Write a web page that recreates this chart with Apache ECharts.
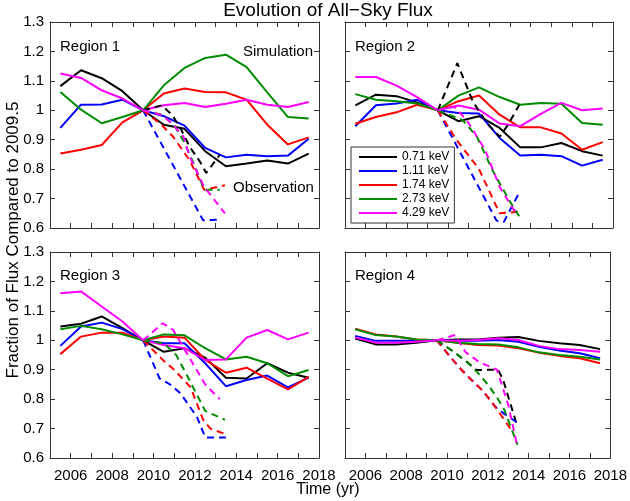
<!DOCTYPE html>
<html>
<head>
<meta charset="utf-8">
<script src="https://cdn.jsdelivr.net/npm/echarts@6/dist/echarts.min.js"></script>
<style>
  html, body { margin: 0; padding: 0; background: #fff; }
  #chart { width: 630px; height: 501px; }
</style>
</head>
<body>
<div id="chart"></div>
<script>
// energies (legend) and half-year simulation sample times
const energies = ['0.71 keV', '1.11 keV', '1.74 keV', '2.73 keV', '4.29 keV'];
const simYears = [2005.5, 2006.5, 2007.5, 2008.5, 2009.5, 2010.5, 2011.5, 2012.5, 2013.5, 2014.5, 2015.5, 2016.5, 2017.5];
const regionNames = ['Region 1', 'Region 2', 'Region 3', 'Region 4'];

// simulation values, one row per energy
const r1Sim = [
    [1.082, 1.136, 1.109, 1.065, 1.0, 0.951, 0.937, 0.861, 0.81, 0.819, 0.829, 0.819, 0.853],
    [0.94, 1.019, 1.02, 1.036, 1.0, 0.98, 0.948, 0.872, 0.84, 0.849, 0.844, 0.846, 0.903],
    [0.853, 0.866, 0.882, 0.959, 1.0, 1.057, 1.074, 1.062, 1.061, 1.036, 0.951, 0.884, 0.908],
    [1.062, 1.002, 0.956, 0.977, 1.0, 1.085, 1.144, 1.178, 1.189, 1.147, 1.061, 0.977, 0.972],
    [1.125, 1.11, 1.068, 1.04, 1.0, 1.017, 1.025, 1.011, 1.022, 1.036, 1.019, 1.011, 1.028]
];
const r2Sim = [
    [1.017, 1.053, 1.048, 1.027, 1.0, 0.963, 0.98, 0.94, 0.874, 0.874, 0.889, 0.861, 0.846],
    [0.946, 1.017, 1.023, 1.036, 1.0, 0.991, 0.989, 0.906, 0.846, 0.849, 0.844, 0.812, 0.832],
    [0.954, 0.977, 0.993, 1.019, 1.0, 1.031, 1.05, 0.985, 0.942, 0.942, 0.921, 0.866, 0.892],
    [1.055, 1.036, 1.031, 1.023, 1.0, 1.05, 1.078, 1.045, 1.019, 1.025, 1.022, 0.957, 0.951],
    [1.113, 1.113, 1.084, 1.045, 1.0, 1.016, 1.002, 0.955, 0.946, 0.988, 1.025, 1.0, 1.006]
];
const r3Sim = [
    [1.047, 1.056, 1.081, 1.041, 1.0, 0.961, 0.973, 0.941, 0.873, 0.87, 0.922, 0.89, 0.873],
    [0.981, 1.047, 1.06, 1.038, 1.0, 0.99, 0.99, 0.922, 0.844, 0.865, 0.88, 0.84, 0.873],
    [0.953, 1.0125, 1.026, 1.026, 1.0, 1.0125, 1.009, 0.933, 0.89, 0.907, 0.87, 0.833, 0.876],
    [1.0375, 1.049, 1.0375, 1.02, 1.0, 1.02, 1.017, 0.973, 0.935, 0.944, 0.922, 0.878, 0.899],
    [1.16, 1.166, 1.115, 1.064, 1.0, 0.984, 0.973, 0.933, 0.935, 1.009, 1.035, 1.003, 1.026]
];
const r4Sim = [
    [1.006, 0.986, 0.986, 0.992, 1.0, 1.003, 1.003, 1.009, 1.011, 0.998, 0.99, 0.984, 0.97],
    [1.015, 0.998, 0.998, 0.998, 1.0, 0.998, 0.998, 1.001, 0.995, 0.978, 0.965, 0.956, 0.939],
    [1.039, 1.02, 1.0125, 1.003, 1.0, 0.992, 0.984, 0.982, 0.973, 0.958, 0.947, 0.939, 0.922],
    [1.0375, 1.018, 1.0125, 1.003, 1.0, 0.992, 0.9875, 0.986, 0.976, 0.959, 0.95, 0.944, 0.935],
    [1.009, 0.992, 0.992, 0.995, 1.0, 0.998, 1.001, 1.007, 1.001, 0.981, 0.97, 0.967, 0.961]
];

// observations, [year, fraction] pairs, one list per energy
const r1Obs = [
    [[2009.5, 1.0], [2010.4, 1.017], [2010.9, 0.984], [2011.3, 0.94], [2011.75, 0.876], [2012.25, 0.825], [2012.55, 0.787], [2013.2, 0.848]],
    [[2009.5, 1.0], [2012.4, 0.626], [2013.1, 0.628]],
    [[2009.5, 1.0], [2010.4, 0.95], [2010.95, 0.91], [2011.75, 0.83], [2012.45, 0.73], [2013.45, 0.745]],
    [[2009.5, 1.0], [2010.4, 0.985], [2011.0, 0.95], [2011.5, 0.89], [2012.0, 0.81], [2012.45, 0.73], [2013.2, 0.73]],
    [[2009.5, 1.0], [2010.4, 0.984], [2010.9, 0.955], [2011.45, 0.91], [2011.75, 0.842], [2012.45, 0.74], [2013.45, 0.65]]
];
const r2Obs = [
    [[2009.5, 1.0], [2010.45, 1.16], [2011.2, 1.03], [2011.9, 0.955], [2012.5, 0.91], [2012.9, 0.95], [2013.45, 1.018]],
    [[2009.5, 1.0], [2012.35, 0.625], [2012.7, 0.62], [2013.45, 0.72]],
    [[2009.5, 1.0], [2010.4, 0.9], [2011.5, 0.8], [2012.5, 0.65], [2013.4, 0.655]],
    [[2009.5, 1.0], [2010.7, 0.967], [2011.4, 0.91], [2012.2, 0.79], [2013.0, 0.69], [2013.45, 0.64]],
    [[2009.5, 1.0], [2010.3, 1.012], [2010.9, 0.967], [2011.8, 0.865], [2012.5, 0.74], [2013.2, 0.66], [2013.4, 0.66]]
];
const r3Obs = [
    [],
    [[2009.5, 1.0], [2010.3, 0.87], [2010.8, 0.85], [2011.3, 0.82], [2012.1, 0.74], [2012.5, 0.67], [2013.5, 0.67]],
    [[2009.5, 1.0], [2010.5, 0.93], [2011.0, 0.9], [2011.8, 0.84], [2012.4, 0.73], [2012.75, 0.7], [2013.4, 0.683]],
    [[2009.5, 1.0], [2010.5, 0.99], [2011.1, 0.95], [2011.7, 0.87], [2012.5, 0.76], [2013.45, 0.73]],
    [[2009.5, 1.0], [2010.45, 1.058], [2010.95, 1.035], [2012.5, 0.85], [2013.2, 0.8]]
];
const r4Obs = [
    [[2009.5, 1.0], [2010.2, 0.967], [2011.0, 0.925], [2011.45, 0.899], [2012.5, 0.9], [2012.75, 0.865], [2013.45, 0.706]],
    [[2009.5, 1.0], [2010.2, 0.94], [2010.7, 0.9], [2011.2, 0.865], [2011.8, 0.825], [2012.35, 0.775], [2012.8, 0.75], [2013.45, 0.72]],
    [[2009.5, 1.0], [2010.2, 0.94], [2010.7, 0.9], [2011.2, 0.865], [2011.8, 0.825], [2012.35, 0.775], [2012.7, 0.74], [2013.15, 0.695]],
    [[2009.5, 1.0], [2010.2, 0.967], [2011.0, 0.925], [2011.5, 0.89], [2012.0, 0.85], [2012.5, 0.8], [2012.8, 0.765], [2013.1, 0.71], [2013.45, 0.645]],
    [[2009.5, 1.0], [2010.4, 1.018], [2010.9, 0.96], [2011.6, 0.925], [2012.45, 0.9], [2013.0, 0.78], [2013.45, 0.638]]
];

const simAll = [r1Sim, r2Sim, r3Sim, r4Sim];
const obsAll = [r1Obs, r2Obs, r3Obs, r4Obs];

const colors = ['#000000', '#0000ff', '#ff0000', '#008c00', '#ff00ff'];
const font = 'Helvetica, "Liberation Sans", Arial, sans-serif';
const axisColor = '#333';

const grids = [
    {left: 50, top: 22, width: 269, height: 206},
    {left: 345, top: 22, width: 268, height: 206},
    {left: 50, top: 252, width: 269, height: 206},
    {left: 345, top: 252, width: 268, height: 206}
];

const xAxes = [];
const yAxes = [];
grids.forEach((g, i) => {
    const showX = i >= 2;
    const showY = i % 2 === 0;
    const base = {
        type: 'value', gridIndex: i,
        axisLine: {show: true, onZero: false, lineStyle: {color: axisColor, width: 1}},
        axisTick: {show: true, inside: true, length: 5, lineStyle: {color: axisColor}},
        splitLine: {show: false}
    };
    // bottom / top x axes (top one only mirrors ticks)
    xAxes.push(Object.assign({}, base, {
        position: 'bottom', min: 2005, max: 2018, interval: 1,
        axisLabel: {
            show: showX, margin: 10, color: '#000', fontSize: 15, fontFamily: font,
            formatter: v => (v % 2 === 0 ? String(v) : '')
        }
    }));
    xAxes.push(Object.assign({}, base, {
        position: 'top', min: 2005, max: 2018, interval: 1, axisLabel: {show: false}
    }));
    yAxes.push(Object.assign({}, base, {
        position: 'left', min: 0.6, max: 1.3, interval: 0.1,
        axisLabel: {show: showY, margin: 6, color: '#000', fontSize: 15, fontFamily: font}
    }));
    yAxes.push(Object.assign({}, base, {
        position: 'right', min: 0.6, max: 1.3, interval: 0.1, axisLabel: {show: false}
    }));
});

const series = [];
simAll.forEach((rows, i) => {
    rows.forEach((vals, e) => {
        series.push({
            name: energies[e], type: 'line', xAxisIndex: i * 2, yAxisIndex: i * 2,
            data: vals.map((v, k) => [simYears[k], v]),
            symbol: 'none', silent: true,
            lineStyle: {color: colors[e], width: 2},
            itemStyle: {color: colors[e]}
        });
    });
});
obsAll.forEach((rows, i) => {
    rows.forEach((pts, e) => {
        if (!pts.length) return;
        series.push({
            name: energies[e] + ' obs', type: 'line', xAxisIndex: i * 2, yAxisIndex: i * 2,
            data: pts,
            symbol: 'none', silent: true,
            lineStyle: {color: colors[e], width: 2, type: [7, 5]},
            itemStyle: {color: colors[e]}
        });
    });
});

const texts = [
    {x: 328, y: 11, text: 'Evolution of All\u2212Sky Flux', size: 19, align: 'center'},
    {x: 60, y: 47, text: regionNames[0], size: 15, align: 'left'},
    {x: 355, y: 47, text: regionNames[1], size: 15, align: 'left'},
    {x: 60, y: 276, text: regionNames[2], size: 15, align: 'left'},
    {x: 355, y: 276, text: regionNames[3], size: 15, align: 'left'},
    {x: 313, y: 52, text: 'Simulation', size: 15, align: 'right'},
    {x: 233, y: 188, text: 'Observation', size: 15, align: 'left'},
    {x: 328, y: 490, text: 'Time (yr)', size: 16, align: 'center'}
];

const graphic = texts.map(t => ({
    type: 'text', x: t.x, y: t.y, silent: true,
    style: {text: t.text, fill: '#000', font: t.size + 'px ' + font, textAlign: t.align, textVerticalAlign: 'middle'}
}));
graphic.push({
    type: 'text', x: 13, y: 240, rotation: Math.PI / 2, silent: true,
    style: {text: 'Fraction of Flux Compared to 2009.5', fill: '#000', font: '17px ' + font, textAlign: 'center', textVerticalAlign: 'middle'}
});

const myChart = echarts.init(document.getElementById('chart'), null, {renderer: 'canvas'});
myChart.setOption({
    animation: false,
    backgroundColor: '#fff',
    grid: grids,
    xAxis: xAxes,
    yAxis: yAxes,
    legend: {
        data: energies.map(n => ({name: n, icon: 'rect'})),
        orient: 'vertical',
        left: 351, top: 147,
        backgroundColor: '#fff',
        borderColor: '#333', borderWidth: 1,
        padding: [4, 5, 4, 8],
        itemWidth: 38, itemHeight: 2, itemGap: 2,
        symbolKeepAspect: false,
        selectedMode: false,
        textStyle: {fontSize: 12, fontFamily: font, color: '#000'}
    },
    graphic: graphic,
    series: series
});
</script>
</body>
</html>
